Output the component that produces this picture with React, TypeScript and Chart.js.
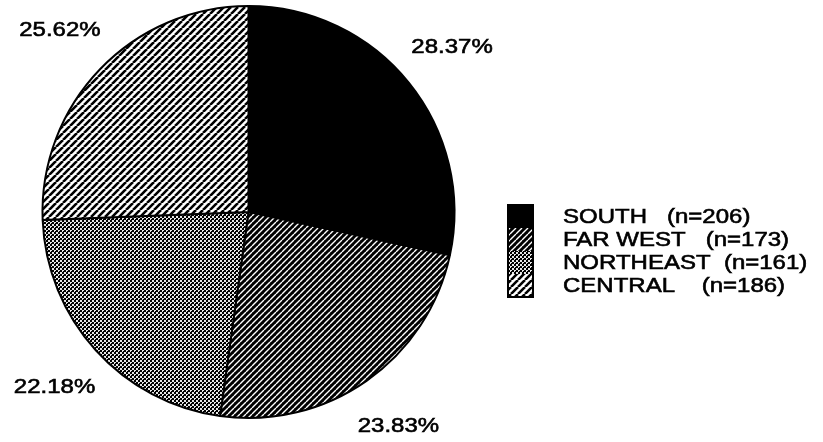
import React, { useEffect, useRef } from "react";
import { Chart, registerables } from "chart.js";

Chart.register(...registerables);

// ---- Data ----
const regions = ["SOUTH", "FAR WEST", "NORTHEAST", "CENTRAL"];
const counts = [206, 173, 161, 186];
const percentLabels = ["28.37%", "23.83%", "22.18%", "25.62%"];
const legendGaps = ["   ", "   ", "  ", "    "];
const patternKinds = ["solid", "fineDiag", "checker", "wideDiag"];

const FONT = '24px "Liberation Sans", Arial, Helvetica, sans-serif';
const SQUASH = 0.88; // reference lettering is slightly wider than tall

function makeFill(kind: string): CanvasPattern | string {
  if (kind === "solid") return "#000000";
  const c = document.createElement("canvas");
  const ctx = c.getContext("2d")!;
  if (kind === "fineDiag") {
    const s = 6;
    c.width = s;
    c.height = s;
    ctx.fillStyle = "#000";
    ctx.fillRect(0, 0, s, s);
    ctx.strokeStyle = "#fff";
    ctx.lineWidth = 1.4;
    ctx.beginPath();
    for (const o of [-s, 0, s]) {
      ctx.moveTo(o, s);
      ctx.lineTo(o + s, 0);
    }
    ctx.stroke();
  } else if (kind === "wideDiag") {
    const s = 7;
    c.width = s;
    c.height = s;
    ctx.fillStyle = "#fff";
    ctx.fillRect(0, 0, s, s);
    ctx.strokeStyle = "#000";
    ctx.lineWidth = 2.6;
    ctx.beginPath();
    for (const o of [-s, 0, s]) {
      ctx.moveTo(o, s);
      ctx.lineTo(o + s, 0);
    }
    ctx.stroke();
  } else {
    const s = 4;
    c.width = s;
    c.height = s;
    ctx.fillStyle = "#000";
    ctx.fillRect(0, 0, s, s);
    ctx.fillStyle = "#e6e6e6";
    ctx.fillRect(0, 0, 2, 2);
    ctx.fillRect(2, 2, 2, 1);
    ctx.fillRect(2, 3, 1, 1);
  }
  return ctx.createPattern(c, "repeat")!;
}

function squashedText(ctx: CanvasRenderingContext2D, text: string, x: number, y: number) {
  ctx.save();
  ctx.scale(1, SQUASH);
  ctx.lineWidth = 0.7;
  ctx.strokeStyle = "#000";
  ctx.strokeText(text, x, y / SQUASH);
  ctx.fillText(text, x, y / SQUASH);
  ctx.restore();
}

export default function App() {
  const ref = useRef<HTMLCanvasElement | null>(null);

  useEffect(() => {
    const canvas = ref.current;
    if (!canvas) return;
    const fills = patternKinds.map(makeFill);

    const labelPlugin = {
      id: "pctLabels",
      afterDatasetsDraw(chart: any) {
        const ctx = chart.ctx;
        const meta = chart.getDatasetMeta(0);
        ctx.save();
        ctx.font = FONT;
        ctx.fillStyle = "#000";
        ctx.textAlign = "center";
        ctx.textBaseline = "middle";
        meta.data.forEach((arc: any, i: number) => {
          const p = arc.getProps(["x", "y", "startAngle", "endAngle", "outerRadius"], true);
          const mid = (p.startAngle + p.endAngle) / 2;
          const d = p.outerRadius * 1.27;
          squashedText(ctx, percentLabels[i], p.x + Math.cos(mid) * d, p.y + Math.sin(mid) * d);
        });
        ctx.restore();
      },
    };

    const legendPlugin = {
      id: "sideLegend",
      afterDraw(chart: any) {
        const ctx = chart.ctx;
        const boxX = 508;
        const boxY = 205;
        const boxW = 25;
        const boxH = 23;
        const textX = 563;
        ctx.save();
        regions.forEach((name, i) => {
          const y = boxY + i * boxH;
          ctx.fillStyle = fills[i];
          ctx.fillRect(boxX, y, boxW, boxH);
        });
        ctx.strokeStyle = "#000";
        ctx.lineWidth = 2;
        ctx.strokeRect(boxX, boxY, boxW, boxH * regions.length);
        ctx.font = FONT;
        ctx.fillStyle = "#000";
        ctx.textAlign = "left";
        ctx.textBaseline = "middle";
        regions.forEach((name, i) => {
          const y = boxY + i * boxH + boxH / 2 + 1;
          squashedText(ctx, `${name}${legendGaps[i]}(n=${counts[i]})`, textX, y);
        });
        ctx.restore();
      },
    };

    const chart = new Chart(canvas, {
      type: "pie",
      data: {
        labels: regions,
        datasets: [
          {
            data: counts,
            backgroundColor: fills as any,
            borderColor: "#000",
            borderWidth: 2,
          },
        ],
      },
      options: {
        responsive: false,
        animation: false,
        layout: { padding: { left: 41, top: 5, right: 367, bottom: 23 } },
        plugins: {
          legend: { display: false },
          tooltip: { enabled: false },
        },
      },
      plugins: [labelPlugin, legendPlugin],
    });
    return () => chart.destroy();
  }, []);

  return (
    <div style={{ position: "fixed", left: 0, top: 0, width: 823, height: 442, background: "#fff" }}>
      <canvas ref={ref} width={823} height={442} style={{ display: "block" }} />
    </div>
  );
}
